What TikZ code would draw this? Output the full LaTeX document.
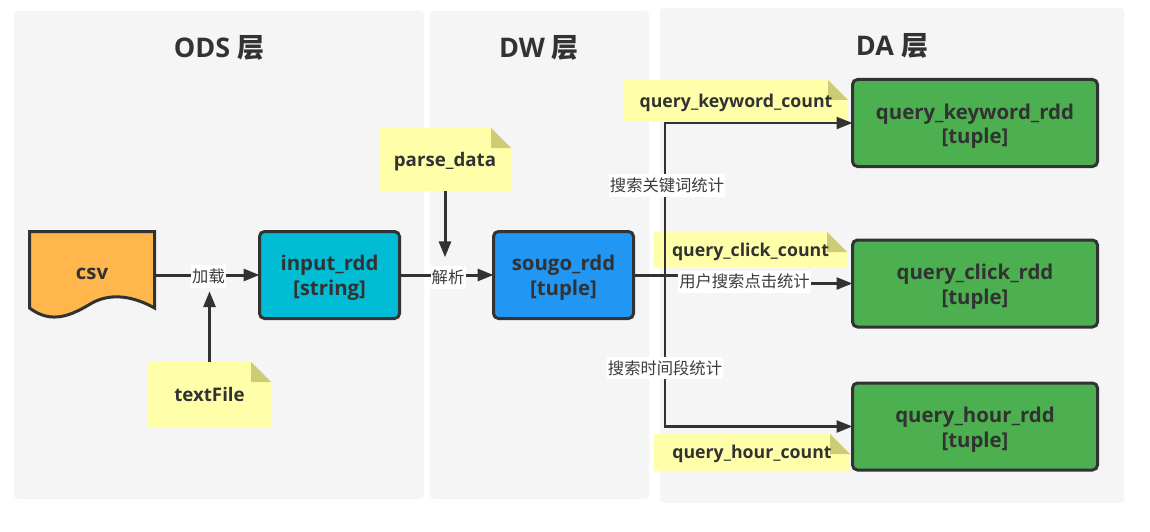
\documentclass[tikz,border=0pt]{standalone}
\usepackage{fontspec}
\setmainfont{Open Sans}
\newfontfamily\cjk{Noto Sans CJK SC}
\usetikzlibrary{arrows.meta}
\definecolor{ink}{HTML}{323232}
\definecolor{thin}{HTML}{3C3C3C}
\definecolor{panel}{HTML}{F5F5F5}
\definecolor{notey}{HTML}{FFFFAA}
\definecolor{notef}{HTML}{CCCC77}
\definecolor{csvc}{HTML}{FFB74D}
\definecolor{cyanc}{HTML}{00BCD4}
\definecolor{bluec}{HTML}{2196F3}
\definecolor{greenc}{HTML}{4CAF50}
\tikzset{
  panelbox/.style={fill=panel,draw=none,rounded corners=4pt},
  titletext/.style={text=ink,font=\fontsize{27}{32}\selectfont\bfseries,inner sep=0pt},
  rddbox/.style={draw=ink,line width=3pt,rounded corners=5pt,outer sep=0pt,inner sep=0pt},
  rddtext/.style={text=ink,align=center,inner sep=0pt,font=\fontsize{20.4}{24.5}\selectfont\bfseries},
  notetext/.style={text=ink,inner sep=0pt,font=\fontsize{#1}{22}\selectfont\bfseries},
  conn/.style={draw=ink,line width=3pt,-{Triangle[length=16pt,width=12pt]}},
  conn2/.style={draw=ink,line width=2.4pt,-{Triangle[length=16pt,width=12pt]}},
  edgelabel/.style={fill=white,text=thin,inner sep=0pt,font=\cjk\fontsize{16.3}{18}\selectfont},
}
% x1 y1 x2 y2 name text font-size text-shift
\newcommand{\notebox}[8]{%
  \fill[notey] (#1,#2) -- ({#3-20},#2) -- (#3,{#2+20}) -- (#3,#4) -- (#1,#4) -- cycle;
  \fill[notef] ({#3-20},#2) -- (#3,{#2+20}) -- ({#3-20},{#2+20}) -- cycle;
  \node[inner sep=0pt,outer sep=0pt] (#5) [minimum width={(#3-#1)*1pt},minimum height={(#4-#2)*1pt}] at ({(#1+#3)/2},{(#2+#4)/2}) {};
  \node[notetext=#7] (#5t) at ([yshift=-#8pt]#5.center) {#6};
}
\begin{document}
\begin{tikzpicture}[x=1pt,y=-1pt]
\useasboundingbox (0,0) rectangle (1150,532);
\fill[white] (0,0) rectangle (1150,532);
% panels
\fill[panelbox] (14,11) rectangle (424,499);
\fill[panelbox] (430,11) rectangle (649,499);
\fill[panelbox] (660,8) rectangle (1124,503);
\node[titletext] (t1) at (219,48) {ODS {\cjk 层}};
\node[titletext] (t2) at (539,48) {DW {\cjk 层}};
\node[titletext] (t3) at (892,45.5) {DA {\cjk 层}};
% csv document
\draw[fill=csvc,draw=ink,line width=3pt,line join=miter]
  (29.5,231.5) -- (154.5,231.5) -- (154.5,308)
  .. controls (135,297) and (112,292) .. (92,303)
  .. controls (72,315) and (52,325) .. (29.5,308) -- cycle;
\node[inner sep=0pt,outer sep=0pt,minimum width=127pt,minimum height=88pt] (csv) at (92,275) {};
\node[rddtext] (csvt) at (92,274) {csv};
% rdd boxes
\node[rddbox,fill=cyanc,minimum width=140pt,minimum height=87pt] (input) at (329.5,275) {};
\node[rddtext] (inputt) at ([yshift=-2.5pt]input.center) {input\_rdd\\{}[string]};
\node[rddbox,fill=bluec,minimum width=140pt,minimum height=87pt] (sougo) at (563.5,275) {};
\node[rddtext] (sougot) at ([yshift=-2.5pt]sougo.center) {sougo\_rdd\\{}[tuple]};
\node[rddbox,fill=greenc,minimum width=245pt,minimum height=87pt] (kw) at (975,123) {};
\node[rddtext] (kwt) at ([yshift=-3pt]kw.center) {query\_keyword\_rdd\\{}[tuple]};
\node[rddbox,fill=greenc,minimum width=245pt,minimum height=87pt] (click) at (975,283.5) {};
\node[rddtext] (clickt) at ([yshift=-3pt]click.center) {query\_click\_rdd\\{}[tuple]};
\node[rddbox,fill=greenc,minimum width=245pt,minimum height=87pt] (hour) at (975,426.5) {};
\node[rddtext] (hourt) at ([yshift=-3pt]hour.center) {query\_hour\_rdd\\{}[tuple]};
% notes
\notebox{148}{362}{271}{427}{tf}{textFile}{18.7}{0}
\notebox{379}{128}{511}{191}{pd}{parse\_data}{18.7}{2.5}
\notebox{624}{80}{848}{122}{nkw}{query\_keyword\_count}{17.7}{2}
\notebox{654}{232}{847}{267}{ncl}{query\_click\_count}{17.7}{2}
\notebox{654}{434}{850}{471}{nhr}{query\_hour\_count}{17.7}{1}
% junctions
\coordinate (jct) at (665,275);
\coordinate (mid) at (743.5,275);
% connectors
\draw[conn] (csv.east) -- (input.west);
\draw[conn] (input.east) -- (sougo.west);
\draw[draw=ink,line width=3pt] (sougo.east) -- (mid);
\draw[conn2] (jct) |- (kw.west);
\draw[conn2] (jct) |- (hour.west);
\draw[conn2] (mid) |- (click.west);
% labels
\node[edgelabel,minimum width=35pt,minimum height=23pt] (ll) at (208.5,276.5) {加载};
\node[edgelabel,minimum width=35pt,minimum height=23pt] (lp) at (448,277) {解析};
\node[edgelabel,minimum width=116pt,minimum height=23pt] (lk) at (667,185.5) {搜索关键词统计};
\node[edgelabel,minimum width=133pt,minimum height=22pt] (lc) at (744.5,281.5) {用户搜索点击统计};
\node[edgelabel,minimum width=116pt,minimum height=22pt] (lh) at (665,368) {搜索时间段统计};
% note connectors
\draw[conn] (tf.north) -- ([yshift=-3pt]tf.north |- ll.south);
\draw[conn] (pd.south) -- ([yshift=8pt]pd.south |- lp.north);
\end{tikzpicture}
\end{document}
